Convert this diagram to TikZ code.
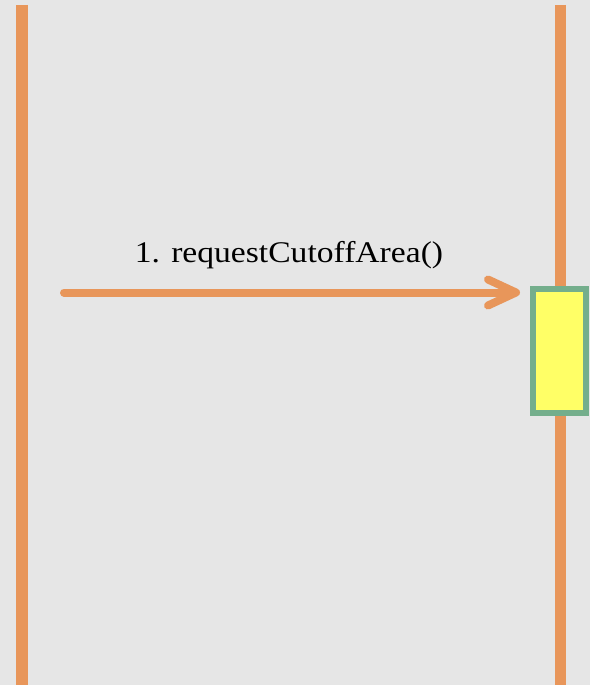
\documentclass[tikz,border=0pt]{standalone}
\usepackage{fontspec}
\setmainfont{Liberation Serif}
\usetikzlibrary{arrows.meta}
\definecolor{bgc}{RGB}{230,230,230}
\definecolor{lifec}{RGB}{232,150,90}
\definecolor{actfill}{RGB}{255,255,102}
\definecolor{actdraw}{RGB}{116,174,140}
\tikzset{
  lifeline/.style={draw=lifec,line width=11.5pt},
  msgarrow/.style={draw=lifec,line width=8pt,line cap=round,
    -{Straight Barb[length=28pt,width=26pt,round]}},
  actbox/.style={draw=actdraw,fill=actfill,line width=5.5pt,minimum width=53pt,minimum height=124pt,inner sep=0pt},
  msglabel/.style={font=\fontsize{30}{34}\selectfont,inner sep=0pt,anchor=base}
}
\begin{document}
\begin{tikzpicture}[x=1pt,y=-1pt]
\useasboundingbox[fill=bgc] (0,0) rectangle (590,685);
\coordinate (atop) at (22,5);
\coordinate (abot) at (22,685);
\coordinate (btop) at (560.5,5);
\coordinate (bbot) at (560.5,685);
\draw[lifeline] (atop) -- (abot);
\draw[lifeline] (btop) -- (bbot);
\node[actbox] (act) at (559.5,351) {};
\coordinate (msgstart) at (64,292.5);
\coordinate (msgend) at (520,292.5);
\draw[msgarrow] (msgstart) -- (msgend);
\node[msglabel] (lbl) at (289,262) {\scalebox{1.12}[1]{1. requestCutoffArea()}};
\end{tikzpicture}
\end{document}
